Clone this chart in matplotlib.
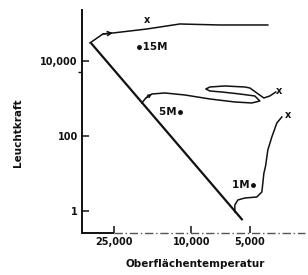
import matplotlib
matplotlib.use("Agg")
import matplotlib.pyplot as plt
from matplotlib.ticker import FixedLocator, NullFormatter

plt.rcParams['font.family'] = ['DejaVu Sans']

# ---- data (temperature K, luminosity in solar units) ----
zams_T = [32800, 5450]
zams_L = [30200, 0.57]

track15_T = [33200, 28480, 25300, 16920, 11450, 7135, 4043]
track15_L = [30200, 52480, 55800, 71300, 97000, 91200, 91200]

track5_T = [17960, 17120, 15950, 13670, 10790, 8030, 5973, 4886, 4442,
            4714, 5630, 6966, 8030, 8420, 8030, 6723, 5306, 5002, 4238, 3949, 3677]
track5_L = [759, 1031, 1318, 1402, 1240, 970, 807, 759, 858,
            1166, 1318, 1490, 1585, 1792, 2026, 2154, 2026, 1905, 1031, 1166, 1490]

track1_T = [5973, 5973, 5765, 5306, 4605, 4339, 4288, 4238, 4150, 4043, 3856, 3634, 3425]
track1_L = [0.94, 1.445, 1.965, 2.22, 2.362, 3.21, 5.58, 10.0, 16.0, 42.3, 94.0, 222, 321]

ends_T = [16920, 3560, 3190]
ends_L = [124000, 1600, 363]

mass_labels = ["15M", "5M", "1M"]
mass_dot_T = [18600, 11450, 4828]
mass_dot_L = [23600, 437, 4.94]

xticks = [25000, 10000, 5000]
xticklabels = ["25,000", "10,000", "5,000"]
yticks = [1, 100, 10000]
yticklabels = ["1", "100", "10,000"]

fig = plt.figure(figsize=(3.08, 2.75), dpi=100)
ax = fig.add_axes([0.266, 0.1527, 0.724, 0.811])
ax.set_xscale('log')
ax.set_yscale('log')
ax.set_xlim(36500, 2606)
ax.set_ylim(10 ** -0.587, 10 ** 5.36)

ink = '#111111'
ax.plot(zams_T, zams_L, color=ink, lw=1.6, solid_capstyle='butt')
for T, L in [(track15_T, track15_L), (track5_T, track5_L), (track1_T, track1_L)]:
    ax.plot(T, L, color=ink, lw=1.1, solid_joinstyle='round')

# small arrowheads on the tracks
ax.annotate('', xy=(track15_T[2], track15_L[2]), xytext=(track15_T[1], track15_L[1]),
            arrowprops=dict(arrowstyle='->', color=ink, lw=1.1, mutation_scale=7,
                            shrinkA=0, shrinkB=0))
ax.annotate('', xy=(track5_T[2], track5_L[2]), xytext=(track5_T[1], track5_L[1]),
            arrowprops=dict(arrowstyle='->', color=ink, lw=1.0, mutation_scale=5,
                            shrinkA=0, shrinkB=0))

for T, L in zip(ends_T, ends_L):
    ax.text(T, L, "x", fontsize=7, fontweight='bold', ha='center', va='center', color=ink)

# mass labels
ax.plot(mass_dot_T, mass_dot_L, 'o', color=ink, ms=2.5)
ax.text(mass_dot_T[0], mass_dot_L[0], " 15M", fontsize=7.5, fontweight='bold',
        ha='left', va='center', color=ink)
ax.text(mass_dot_T[1], mass_dot_L[1], "5M ", fontsize=7.5, fontweight='bold',
        ha='right', va='center', color=ink)
ax.text(mass_dot_T[2], mass_dot_L[2], "1M ", fontsize=7.5, fontweight='bold',
        ha='right', va='center', color=ink)

# axes styling
for s in ['top', 'right', 'bottom']:
    ax.spines[s].set_visible(False)
ax.spines['left'].set_linewidth(1.4)
ax.spines['left'].set_color(ink)
tr = ax.get_xaxis_transform()
ax.plot([ax.get_xlim()[0], xticks[0]], [0, 0], transform=tr, color=ink, lw=1.4,
        clip_on=False, solid_capstyle='butt')
ax.plot([xticks[0], ax.get_xlim()[1]], [0, 0], transform=tr, color='#555555', lw=1.0,
        ls=(0, (6, 2, 1, 2)), clip_on=False)

ax.xaxis.set_major_locator(FixedLocator(xticks))
ax.set_xticklabels(xticklabels)
ax.xaxis.set_minor_locator(FixedLocator([]))
ax.yaxis.set_major_locator(FixedLocator(yticks))
ax.set_yticklabels(yticklabels)
ax.yaxis.set_minor_locator(FixedLocator([5000]))
ax.yaxis.set_minor_formatter(NullFormatter())
ax.tick_params(axis='both', which='major', direction='in', length=5, width=1.1,
               labelsize=7, colors=ink, pad=3)
ax.tick_params(axis='y', which='minor', direction='out', length=3, width=1.0, colors=ink)
for lab in ax.get_xticklabels() + ax.get_yticklabels():
    lab.set_fontweight('bold')

ax.set_xlabel("Oberflächentemperatur", fontsize=7.5, fontweight='bold', color=ink)
ax.set_ylabel("Leuchtkraft", fontsize=7.5, fontweight='bold', color=ink)
ax.xaxis.set_label_coords(0.507, -0.115)
ax.yaxis.set_label_coords(-0.265, 0.45)

fig.savefig("out.png", dpi=100, facecolor='white')
